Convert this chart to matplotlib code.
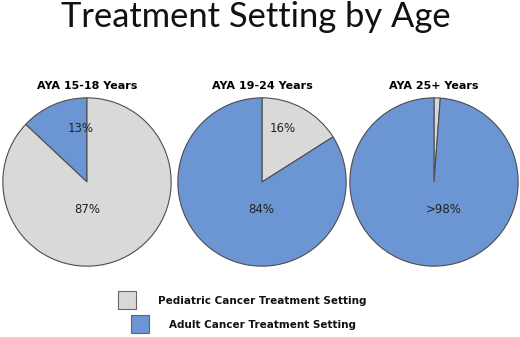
import matplotlib.pyplot as plt
from matplotlib.patches import Rectangle

W, H = 520, 337

groups = ['AYA 15-18 Years', 'AYA 19-24 Years', 'AYA 25+ Years']
pediatric = [87, 16, 1.2]
adult = [13, 84, 98.8]
ped_labels = ['87%', '16%', '']
adult_labels = ['13%', '84%', '>98%']

grey = '#D9D9D9'
blue = '#6C95D4'
edge = '#4d4d4d'

# pie centres in pixels (x, y from top), radius in pixels
centres = [(87, 182), (262, 182), (434, 182)]
radius = 85

fig = plt.figure(figsize=(W / 100, H / 100), dpi=100)

fig.text(256 / W, 1 - 27 / H, 'Treatment Setting by Age', ha='center', va='baseline',
         fontsize=24.8, family='Lato', weight='normal', color='#111111')

for i, (cx, cy) in enumerate(centres):
    ax = fig.add_axes([(cx - radius) / W, (H - cy - radius) / H, 2 * radius / W, 2 * radius / H])
    if i == 0:
        # adult wedge sits left of 12 o'clock
        vals = [adult[i], pediatric[i]]
        cols = [blue, grey]
        ccw = True
    else:
        vals = [pediatric[i], adult[i]]
        cols = [grey, blue]
        ccw = False
    ax.pie(vals, colors=cols, startangle=90, counterclock=ccw, radius=1,
           wedgeprops=dict(edgecolor=edge, linewidth=0.8))
    ax.set_xlim(-1.01, 1.01)
    ax.set_ylim(-1.01, 1.01)
    ax.set_aspect('equal')
    ax.set_title(groups[i], fontsize=8, weight='bold', pad=6, family='DejaVu Sans')

    # percent labels
    small_lbl = adult_labels[i] if i == 0 else ped_labels[i]
    big_lbl = ped_labels[i] if i == 0 else adult_labels[i]
    small_x = [-0.07, 0.25, 0][i]
    big_x = [0, -0.01, 0.12][i]
    if small_lbl:
        ax.text(small_x, 0.64, small_lbl, ha='center', va='center', fontsize=8.5, color='#222222')
    ax.text(big_x, -0.33, big_lbl, ha='center', va='center', fontsize=8.5, color='#222222')

# manual staggered legend
leg = [(118, 291, grey, 'Pediatric Cancer Treatment Setting', 158),
       (131, 315, blue, 'Adult Cancer Treatment Setting', 169)]
for x, y, c, txt, tx in leg:
    fig.patches.append(Rectangle((x / W, 1 - (y + 18) / H), 18 / W, 18 / H,
                                 transform=fig.transFigure, facecolor=c,
                                 edgecolor='#666666', linewidth=0.8))
    fig.text(tx / W, 1 - (y + 10) / H, txt, ha='left', va='center',
             fontsize=7.5, weight='bold', color='#111111')

fig.savefig('out.png', dpi=100)
